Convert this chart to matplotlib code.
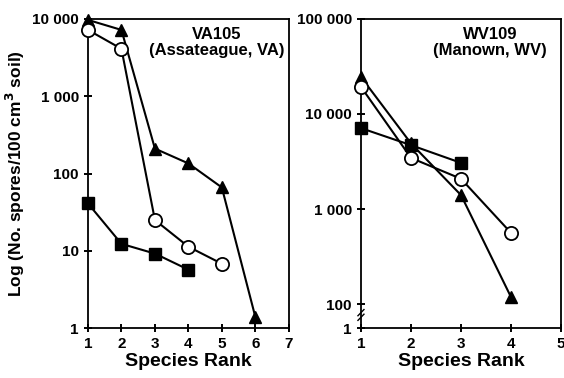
import matplotlib.pyplot as plt
import numpy as np

plt.rcParams['font.family'] = ['Liberation Sans', 'DejaVu Sans']
plt.rcParams['font.weight'] = 'bold'

# VA105 (Assateague, VA)
va_rank_tri = [1, 2, 3, 4, 5, 6]
va_tri = [9700, 7200, 210, 135, 66, 1.4]
va_rank_circ = [1, 2, 3, 4, 5]
va_circ = [7200, 4100, 25, 11.3, 6.8]
va_rank_sq = [1, 2, 3, 4]
va_sq = [41, 12.3, 9.2, 5.7]

# WV109 (Manown, WV)
wv_rank_tri = [1, 2, 3, 4]
wv_tri = [24500, 4900, 1400, 118]
wv_rank_circ = [1, 2, 3, 4]
wv_circ = [19300, 3450, 2080, 560]
wv_rank_sq = [1, 2, 3]
wv_sq = [7100, 4700, 3060]

va_yticks = [1, 10, 100, 1000, 10000]
va_ylabels = ['1', '10', '100', '1 000', '10 000']
wv_yticks = [56, 100, 1000, 10000, 100000]
wv_ylabels = ['1', '100', '1 000', '10 000', '100 000']

fig = plt.figure(figsize=(5.64, 3.78), dpi=100)
ax1 = fig.add_axes([0.156, 0.132, 0.356, 0.818])
ax2 = fig.add_axes([0.640, 0.132, 0.355, 0.818])

def draw(ax, rt, t, rc, c, rs, s):
    ax.plot(rt, t, '-^', color='black', lw=1.5, ms=9, mfc='black', mec='black', clip_on=False, zorder=3)
    ax.plot(rc, c, '-o', color='black', lw=1.5, ms=9.5, mfc='white', mec='black', mew=1.3, clip_on=False, zorder=4)
    ax.plot(rs, s, '-s', color='black', lw=1.5, ms=8, mfc='black', mec='black', clip_on=False, zorder=3)
    ax.set_yscale('log')
    ax.minorticks_off()
    ax.tick_params(direction='inout', length=6, width=1.4, labelsize=11)
    ax.set_xlabel('Species Rank', fontsize=14, fontweight='bold', labelpad=1)
    for sp in ax.spines.values():
        sp.set_linewidth(1.3)

draw(ax1, va_rank_tri, va_tri, va_rank_circ, va_circ, va_rank_sq, va_sq)
ax1.set_xlim(1, 7)
ax1.set_ylim(1, 10000)
ax1.set_xticks(range(1, 8))
ax1.set_yticks(va_yticks, va_ylabels)
ax1.set_ylabel('Log (No. spores/100 cm$^\\mathbf{3}$ soil)', fontsize=12.5, fontweight='bold', labelpad=4)
ax1.text(0.64, 0.975, 'VA105\n(Assateague, VA)', transform=ax1.transAxes, ha='center', va='top',
         fontsize=12, fontweight='bold', linespacing=1.1)

draw(ax2, wv_rank_tri, wv_tri, wv_rank_circ, wv_circ, wv_rank_sq, wv_sq)
ax2.set_xlim(1, 5)
ax2.set_ylim(56, 100000)
ax2.set_xticks(range(1, 6))
ax2.set_yticks(wv_yticks, wv_ylabels)
ax2.text(0.645, 0.975, 'WV109\n(Manown, WV)', transform=ax2.transAxes, ha='center', va='top',
         fontsize=12, fontweight='bold', linespacing=1.1)

# axis break marks
for dy in (0.035, 0.050):
    ax2.plot([-0.015, 0.015], [dy - 0.01, dy + 0.01], transform=ax2.transAxes,
             color='black', lw=1, clip_on=False)

plt.savefig('out.png', dpi=100)
